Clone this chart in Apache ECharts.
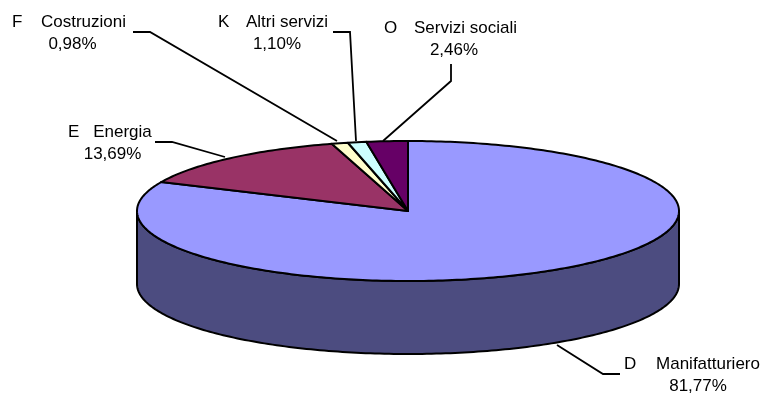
<!DOCTYPE html>
<html><head><meta charset="utf-8">
<style>html,body{margin:0;padding:0;background:#fff}#c{width:769px;height:396px}</style>
<script src="https://cdn.jsdelivr.net/npm/echarts@6/dist/echarts.min.js"></script>
</head><body><div id="c"></div>
<script>
const categoryCodes = ['D','E','F','K','O'];
const categoryNames = ['Manifatturiero','Energia','Costruzioni','Altri servizi','Servizi sociali'];
const shareValues = [81.77,13.69,0.98,1.10,2.46];
const shareLabels = ['81,77%','13,69%','0,98%','1,10%','2,46%'];
const sliceColors = ['#9999FF','#993366','#FFFFCC','#CCFFFF','#660066'];
const wallColors = ['#4C4C80','#4C1A33','#808066','#668080','#330033'];

const pieGeom = {cx:408, cy:211, rx:271, ry:70, depth:73};
const labelPos = [
  {cx:624,nx:708,y:364,px:698,py:386,line:[[557,345],[603,374],[620,374]]},
  {cx:68,nx:122.5,y:132,px:112.5,py:154,line:[[225,157],[172,142],[155,142]]},
  {cx:12,nx:83.5,y:22,px:72.5,py:44,line:[[337,141],[150,32],[133,32]]},
  {cx:218,nx:287,y:22,px:277,py:44,line:[[356,141],[350,32],[333,32]]},
  {cx:384,nx:465.5,y:28,px:454,py:50,line:[[383,141],[451,81],[451,64]]}
];

const total = shareValues.reduce((a,b)=>a+b,0);
const starts = [];
let acc = 0;
shareValues.forEach(v=>{starts.push(acc); acc += v;});

function pt(t, dy){ // t: clockwise fraction of full circle from 12 o'clock
  const a = t*2*Math.PI, g = pieGeom;
  return [g.cx + g.rx*Math.sin(a), g.cy - g.ry*Math.cos(a) + (dy||0)];
}
function arc(t0,t1,dy){
  const n = Math.max(2, Math.ceil((t1-t0)*360)), out=[];
  for(let i=0;i<=n;i++) out.push(pt(t0+(t1-t0)*i/n, dy));
  return out;
}
const line = {stroke:'#000', lineWidth:2, lineJoin:'round'};

function renderItem(params, api){
  const i = params.dataIndex;
  const v = api.value(1);
  const t0 = starts[i]/total, t1 = t0 + v/total;
  const children = [];
  // visible outer wall: front half of the cylinder, t in [0.25,0.75]
  const w0 = Math.max(t0,0.25), w1 = Math.min(t1,0.75);
  if(w1>w0){
    const top = arc(w0,w1,0), bot = arc(w0,w1,pieGeom.depth).reverse();
    children.push({type:'polygon',shape:{points:top.concat(bot)},
      style:Object.assign({fill:wallColors[i]},line)});
  }
  const pts = [[pieGeom.cx,pieGeom.cy]].concat(arc(t0,t1,0));
  children.push({type:'polygon',z2:2,shape:{points:pts},
    style:Object.assign({fill:sliceColors[i]},line)});
  return {type:'group',children};
}

const font = '17px "Liberation Sans", Arial, sans-serif';
const annotations = [];
function addText(text,x,y,align){
  annotations.push({type:'text',z:11,x,y,style:{text,font,fill:'#000',align,verticalAlign:'middle'}});
}
categoryNames.forEach((name,i)=>{
  const p = labelPos[i];
  annotations.push({type:'polyline',z:10,shape:{points:p.line},style:{stroke:'#000',lineWidth:1.8,fill:null}});
  addText(categoryCodes[i],p.cx,p.y,'left');
  addText(name,p.nx,p.y,'center');
  addText(shareLabels[i],p.px,p.py,'center');
});

const chart = echarts.init(document.getElementById('c'),null,{renderer:'canvas'});
chart.setOption({
  animation:false,
  backgroundColor:'#fff',
  series:[{type:'custom',coordinateSystem:'none',renderItem,
    data:categoryNames.map((c,i)=>[categoryCodes[i]+' '+c,shareValues[i]])}],
  graphic:annotations
});
</script></body></html>
